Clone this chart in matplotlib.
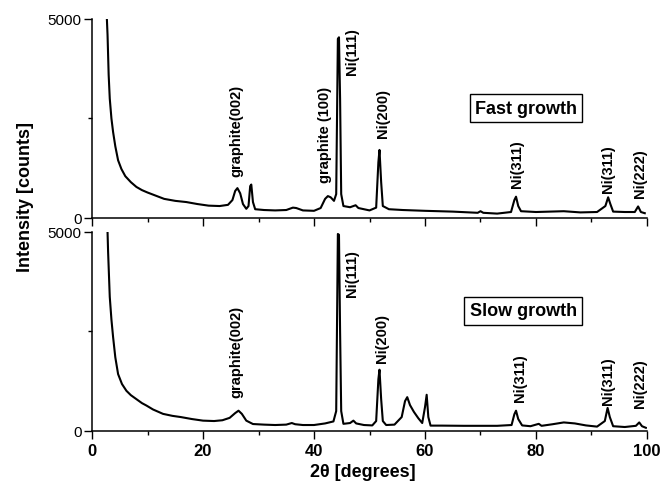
import matplotlib
matplotlib.use("Agg")
import matplotlib.pyplot as plt
from matplotlib.ticker import MultipleLocator

plt.rcParams['font.family'] = ['Liberation Sans', 'DejaVu Sans']

# 2theta / intensity, fast growth sample
fast_2theta = [2.5, 2.8, 3.0, 3.2, 3.5, 3.8, 4.2, 4.7, 5.3, 6.0, 7.0, 8.0, 9.0, 10.0,
               11.5, 13.0, 15.0, 17.0, 19.0, 21.0, 23.0, 24.5, 25.3, 25.8, 26.2, 26.7,
               27.2, 27.8, 28.2, 28.5, 28.7, 29.0, 29.4, 31.0, 33.0, 35.0, 36.2, 36.8,
               38.0, 40.0, 41.2, 42.0, 42.5, 43.0, 43.6, 44.0, 44.3, 44.5, 44.7, 44.9,
               45.3, 46.5, 47.5, 48.0, 50.0, 51.2, 51.6, 51.8, 52.1, 52.4, 53.5, 56.0,
               60.0, 65.0, 69.5, 70.0, 70.5, 73.0, 75.5, 76.1, 76.4, 76.8, 77.3, 80.0,
               85.0, 88.0, 91.0, 92.5, 93.0, 93.4, 93.9, 96.0, 97.8, 98.4, 98.9, 99.6]
fast_counts = [5600, 4600, 3600, 3000, 2500, 2160, 1800, 1450, 1230, 1050, 900, 780, 700, 640,
               560, 480, 430, 400, 350, 310, 300, 330, 450, 680, 750, 620,
               350, 230, 300, 800, 840, 400, 220, 200, 190, 200, 260, 250,
               190, 180, 250, 480, 550, 520, 430, 600, 4500, 4540, 3000, 600,
               300, 270, 320, 250, 190, 260, 1400, 1710, 900, 300, 220, 200,
               180, 160, 130, 170, 130, 110, 150, 450, 535, 300, 170, 150,
               170, 140, 150, 300, 520, 350, 160, 150, 150, 290, 150, 120]

# slow growth sample
slow_2theta = [2.7, 2.9, 3.2, 3.5, 3.8, 4.2, 4.7, 5.4, 6.2, 7.0, 8.0, 9.0, 9.8, 11.0,
               12.8, 14.5, 16.0, 18.0, 20.0, 22.0, 23.5, 24.8, 25.8, 26.4, 27.0, 27.8,
               29.0, 31.0, 33.0, 35.0, 36.0, 36.6, 38.0, 40.0, 42.0, 43.5, 44.0, 44.3,
               44.5, 44.7, 44.9, 45.3, 46.5, 47.1, 47.6, 49.0, 50.5, 51.2, 51.6, 51.8,
               52.1, 52.4, 53.0, 54.5, 55.8, 56.4, 56.8, 57.3, 58.0, 58.8, 59.5, 60.0,
               60.3, 60.6, 61.0, 63.0, 67.0, 70.0, 73.0, 75.6, 76.1, 76.4, 76.8, 77.5,
               79.0, 80.5, 81.0, 83.0, 85.0, 87.0, 89.0, 91.0, 92.4, 92.9, 93.3, 93.9,
               96.0, 98.0, 98.6, 99.1, 99.8]
slow_counts = [5500, 4500, 3370, 2800, 2360, 1850, 1430, 1180, 1010, 900, 800, 700, 640, 540,
               430, 380, 350, 300, 260, 250, 270, 330, 450, 510, 430, 260,
               175, 160, 150, 160, 200, 170, 150, 150, 190, 240, 500, 4950,
               4930, 2500, 500, 180, 200, 260, 190, 150, 140, 250, 1300, 1540,
               800, 250, 150, 160, 350, 750, 850, 650, 480, 320, 200, 600,
               910, 350, 135, 135, 130, 130, 130, 150, 420, 510, 300, 140,
               120, 180, 130, 170, 215, 190, 140, 110, 250, 580, 350, 120,
               100, 130, 215, 120, 80]

# peak labels: (text, 2theta, intensity at text bottom)
fast_labels = [("graphite(002)", 26.1, 1050), ("graphite (100)", 42.0, 900),
               ("Ni(111)", 46.8, 3620), ("Ni(200)", 52.5, 2030),
               ("Ni(311)", 76.5, 780), ("Ni(311)", 93.0, 650), ("Ni(222)", 98.7, 525)]
slow_labels = [("graphite(002)", 26.1, 850), ("Ni(111)", 46.8, 3400),
               ("Ni(200)", 52.2, 1730), ("Ni(311)", 77.1, 760),
               ("Ni(311)", 93.0, 680), ("Ni(222)", 98.7, 600)]

fig = plt.figure(figsize=(6.6, 4.85), dpi=100)
ax_top = fig.add_axes([0.1394, 0.5485, 0.8409, 0.4103])
ax_bot = fig.add_axes([0.1394, 0.1093, 0.8409, 0.4103])


def style_axis(ax):
    ax.set_xlim(0, 100)
    ax.set_ylim(0, 5000)
    for side in ['top', 'right']:
        ax.spines[side].set_visible(False)
    for side in ['left', 'bottom']:
        ax.spines[side].set_linewidth(1.1)
    ax.xaxis.set_major_locator(MultipleLocator(20))
    ax.xaxis.set_minor_locator(MultipleLocator(10))
    ax.yaxis.set_major_locator(MultipleLocator(5000))
    ax.yaxis.set_minor_locator(MultipleLocator(2500))
    ax.tick_params(which='major', direction='out', length=5.5, width=1.0)
    ax.tick_params(which='minor', direction='out', length=3, width=1.0)
    ax.tick_params(axis='y', labelsize=11, pad=2)
    for lbl in ax.get_xticklabels():
        lbl.set_fontweight('bold')


ax_top.plot(fast_2theta, fast_counts, color='black', lw=1.5)
ax_bot.plot(slow_2theta, slow_counts, color='black', lw=1.5)

for ax in (ax_top, ax_bot):
    style_axis(ax)

ax_top.tick_params(axis='x', labelbottom=False)
ax_bot.tick_params(axis='x', labelsize=12)
for lbl in ax_bot.get_xticklabels():
    lbl.set_fontweight('bold')

for text, x, y in fast_labels:
    ax_top.text(x, y, text, rotation=90, ha='center', va='bottom',
                fontsize=10.5, fontweight='bold')
for text, x, y in slow_labels:
    ax_bot.text(x, y, text, rotation=90, ha='center', va='bottom',
                fontsize=10.5, fontweight='bold')

box = dict(boxstyle='square,pad=0.3', facecolor='white', edgecolor='black', lw=1.0)
ax_top.text(78.2, 2760, "Fast growth", ha='center', va='center',
            fontsize=13, fontweight='bold', bbox=box)
ax_bot.text(77.7, 3020, "Slow growth", ha='center', va='center',
            fontsize=13, fontweight='bold', bbox=box)

fig.text(0.55, 0.025, "2θ [degrees]", ha='center', va='center',
         fontsize=13, fontweight='bold')
fig.text(0.038, 0.594, "Intensity [counts]", ha='center', va='center',
         rotation=90, fontsize=13, fontweight='bold')

fig.savefig("out.png", dpi=100)
